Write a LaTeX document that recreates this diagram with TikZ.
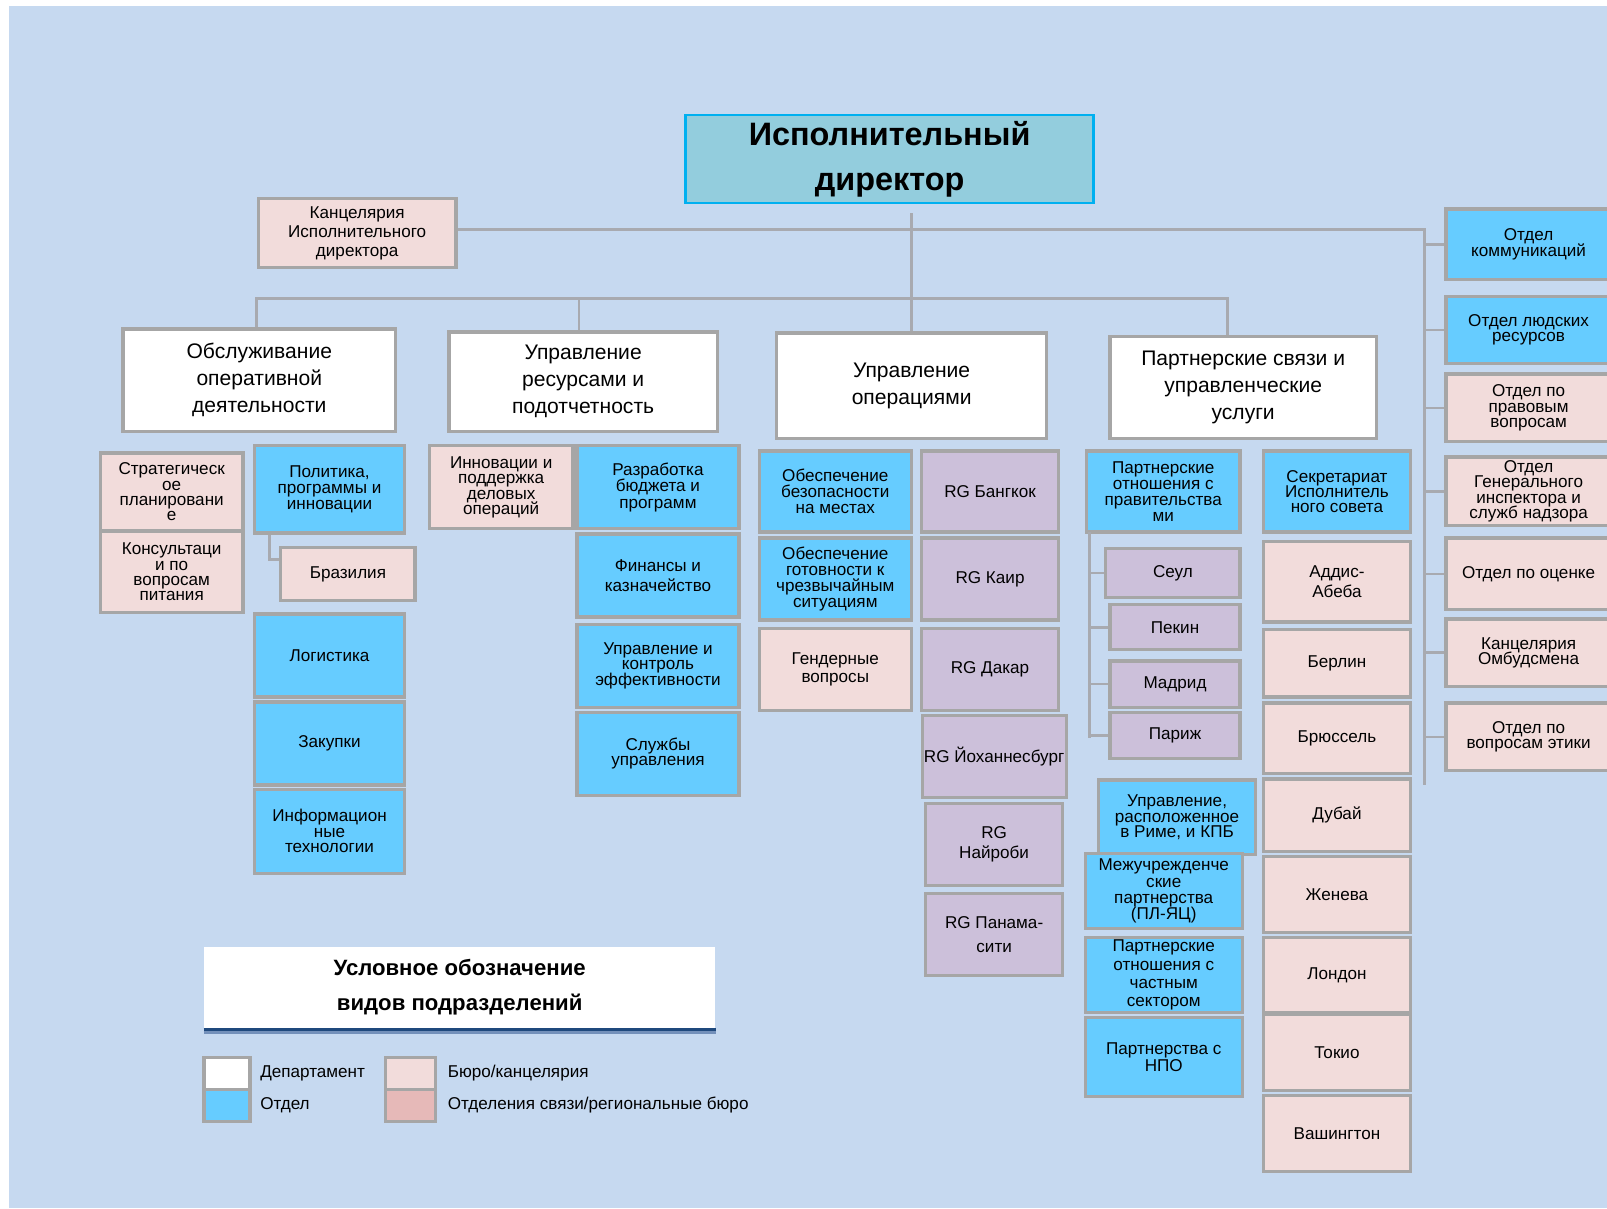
\documentclass[tikz,border=0pt]{standalone}
\usepackage{fontspec}
\setmainfont{Liberation Sans}
\usepackage{tikz}
\usetikzlibrary{calc,positioning}
\definecolor{bgblue}{HTML}{C6D9F0}
\definecolor{boxgray}{HTML}{A6A6A6}
\definecolor{linegray}{HTML}{A8AAB0}
\definecolor{otdelblue}{HTML}{66CCFF}
\definecolor{buropink}{HTML}{F2DCDB}
\definecolor{rglilac}{HTML}{CCC0DA}
\definecolor{rgpink}{HTML}{E6B9B8}
\definecolor{dirfill}{HTML}{93CDDD}
\definecolor{dirblue}{HTML}{00B0F0}
\definecolor{legline}{HTML}{1F497D}
\definecolor{leglight}{HTML}{7390BA}
\newcommand{\fsz}[2]{\fontsize{#1}{#2}\selectfont\lineskiplimit=-\maxdimen}
\newcommand{\unitbox}[7]{%
  \node[#1, minimum width={(#5-#3)*0.02cm}, minimum height={(#6-#4)*0.02cm}] (#2) at ({(#3+#5)/2},{(#4+#6)/2}) {#7};}

\begin{document}
\begin{tikzpicture}[x=0.02cm, y=-0.02cm,
  box/.style={draw=boxgray, line width=1.8pt, align=center, inner sep=1pt, font=\fsz{9.5}{8.5}},
  ls/.style={font=\fsz{9.5}{#1}},
  dept/.style={box, fill=white, font=\fsz{11.7}{15}},
  otdel/.style={box, fill=otdelblue},
  buro/.style={box, fill=buropink},
  rg/.style={box, fill=rglilac},
  director/.style={draw=dirblue, line width=1.3pt, fill=dirfill, align=center, font=\fsz{18}{25}\bfseries},
  legbox/.style={fill=white, align=center, inner sep=0pt, font=\fsz{12.3}{19.3}\bfseries},
  lbl/.style={inner sep=0pt, font=\fsz{9.5}{11}},
  conn/.style={draw=linegray, line width=1.5pt}]
\useasboundingbox (0,0) rectangle (1568,1179);
\fill[bgblue] (9,6) rectangle (1568,1179);

\unitbox{director}{dir}{669}{112}{1067}{198}{Исполнительный\\директор}
\unitbox{buro, ls=10.5}{kanc}{252}{194}{445}{261}{Канцелярия\\Исполнительного\\директора}

\unitbox{dept}{svc}{120}{321}{386}{421}{Обслуживание\\оперативной\\деятельности}
\unitbox{dept}{res}{438}{324}{700}{421}{Управление\\ресурсами и\\подотчетность}
\unitbox{dept}{ops}{758}{325}{1021}{428}{Управление\\операциями}
\unitbox{dept}{part}{1083}{328}{1343}{428}{Партнерские связи и\\управленческие\\услуги}

\unitbox{buro}{strat}{98}{442}{237}{518}{Стратегическ\\ое\\планировани\\е}
\unitbox{buro}{nutr}{98}{518}{237}{598}{Консультаци\\и по\\вопросам\\питания}
\unitbox{otdel, ls=8.8}{polit}{248}{435}{395}{520}{Политика,\\программы и\\инновации}
\unitbox{buro}{braz}{274}{534}{405}{586}{Бразилия}
\unitbox{otdel}{logist}{248}{599}{395}{680}{Логистика}
\unitbox{otdel}{procur}{248}{685}{395}{766}{Закупки}
\unitbox{otdel}{ict}{248}{770}{395}{852}{Информацион\\ные\\технологии}

\unitbox{buro}{innov}{419}{435}{559}{516}{Инновации и\\поддержка\\деловых\\операций}
\unitbox{otdel, ls=9}{budget}{563}{435}{721}{516}{Разработка\\бюджета и\\программ}
\unitbox{otdel, ls=10.8}{fin}{563}{521}{721}{602}{Финансы и\\казначейство}
\unitbox{otdel}{perf}{563}{609}{721}{690}{Управление и\\контроль\\эффективности}
\unitbox{otdel}{mgmt}{563}{695}{721}{776}{Службы\\управления}

\unitbox{otdel, ls=8.8}{fieldsec}{741}{440}{889}{519}{Обеспечение\\безопасности\\на местах}
\unitbox{otdel, ls=8.8}{emerg}{741}{525}{889}{605}{Обеспечение\\готовности к\\чрезвычайным\\ситуациям}
\unitbox{buro, ls=9.7}{gender}{741}{613}{889}{693}{Гендерные\\вопросы}
\unitbox{rg}{bkk}{899}{440}{1033}{519}{RG Бангкок}
\unitbox{rg}{cai}{899}{525}{1033}{605}{RG Каир}
\unitbox{rg}{dkr}{899}{613}{1033}{693}{RG Дакар}
\unitbox{rg}{jnb}{903}{698}{1037}{778}{RG Йоханнесбург}
\unitbox{rg, ls=11.4}{nbo}{903}{784}{1037}{864}{RG\\Найроби}
\unitbox{rg, ls=13}{pty}{903}{872}{1037}{952}{RG Панама-\\сити}

\unitbox{otdel, ls=8.8}{gov}{1060}{440}{1210}{519}{Партнерские\\отношения с\\правительства\\ми}
\unitbox{rg}{seoul}{1079}{535}{1210}{583}{Сеул}
\unitbox{rg}{beijing}{1083}{590}{1210}{634}{Пекин}
\unitbox{rg}{madrid}{1083}{645}{1210}{690}{Мадрид}
\unitbox{rg}{paris}{1083}{695}{1210}{740}{Париж}
\unitbox{otdel}{rome}{1072}{761}{1225}{834}{Управление,\\расположенное\\в Риме, и КПБ}
\unitbox{otdel, ls=9.1}{interag}{1059}{833}{1212}{906}{Межучрежденче\\ские\\партнерства\\(ПЛ-ЯЦ)}
\unitbox{otdel, ls=10.2}{private}{1059}{915}{1212}{988}{Партнерские\\отношения с\\частным\\сектором}
\unitbox{otdel, ls=9}{ngo}{1059}{993}{1212}{1070}{Партнерства с\\НПО}
\unitbox{otdel}{board}{1233}{440}{1376}{519}{Секретариат\\Исполнитель\\ного совета}
\foreach \nm/\ya/\yb/\txt in {addis/528/607/{Аддис-\\Абеба}, berlin/614/680/Берлин, brus/686/755/Брюссель, dubai/760/831/Дубай, geneva/836/910/Женева, london/915/988/Лондон, tokyo/990/1064/Токио, wash/1069/1143/Вашингтон}
  {\unitbox{buro, ls=10.8}{\nm}{1233}{\ya}{1376}{\yb}{\txt}}

\foreach \nm/\st/\ya/\yb/\txt in {comm/otdel/204/273/{Отдел\\коммуникаций}, hr/otdel/289/355/{Отдел людских\\ресурсов}, legal/buro/365/431/{Отдел по\\правовым\\вопросам}, oig/buro/446/513/{Отдел\\Генерального\\инспектора и\\служб надзора}, eval/buro/525/595/{Отдел по оценке}, ombud/buro/604/670/{Канцелярия\\Омбудсмена}, ethics/buro/686/752/{Отдел по\\вопросам этики}}
  {\unitbox{\st}{\nm}{1411}{\ya}{1572}{\yb}{\txt}}

\coordinate (rtop) at (1390,224);
\coordinate (rbot) at (1390,766);
\draw[conn] (kanc.east |- rtop) -- (rtop) -- (rbot);
\foreach \nm in {comm,hr,legal,oig,eval,ombud,ethics}
  \draw[conn] (\nm.west -| rtop) -- (\nm.west);
\coordinate (dgap) at ($(dir.south -| ops.north)+(0,9)$);
\draw[conn] (dgap) -- (ops.north);
\coordinate (busL) at (250,291);
\coordinate (busB) at (565,291);
\coordinate (busR) at (1198,291);
\draw[conn] (busL |- svc.north) -- (busL) -- (busR) -- (busR |- part.north);
\draw[conn] (busB) -- (busB |- res.north);
\coordinate (bjog) at (263,546);
\draw[conn] (bjog |- polit.south) -- (bjog) -- (bjog -| braz.west);
\coordinate (gtop) at (1063,519);
\coordinate (gbot) at (1063,720);
\draw[conn] (gtop) -- (gbot);
\foreach \nm in {seoul,beijing,madrid,paris}
  \draw[conn] (\nm.west -| gtop) -- (\nm.west);

\unitbox{legbox}{legt}{199}{924}{698}{1003}{Условное обозначение\\видов подразделений}
\draw[legline, line width=1.7pt] ([yshift=-0.03cm]legt.south west) -- ([yshift=-0.03cm]legt.south east);
\draw[leglight, line width=1.7pt] ([yshift=-0.09cm]legt.south west) -- ([yshift=-0.09cm]legt.south east);
\unitbox{box, fill=white}{lgdept}{199}{1032}{244}{1063}{}
\unitbox{otdel}{lgotdel}{199}{1063}{244}{1094}{}
\unitbox{buro}{lgburo}{376}{1032}{425}{1063}{}
\unitbox{box, fill=rgpink}{lgrg}{376}{1063}{425}{1094}{}
\node[lbl, right=0.16cm of lgdept] (tdept) {Департамент};
\node[lbl, right=0.16cm of lgotdel] (totdel) {Отдел};
\node[lbl, right=0.2cm of lgburo] (tburo) {Бюро/канцелярия};
\node[lbl, right=0.2cm of lgrg] (trg) {Отделения связи/региональные бюро};
\end{tikzpicture}
\end{document}
